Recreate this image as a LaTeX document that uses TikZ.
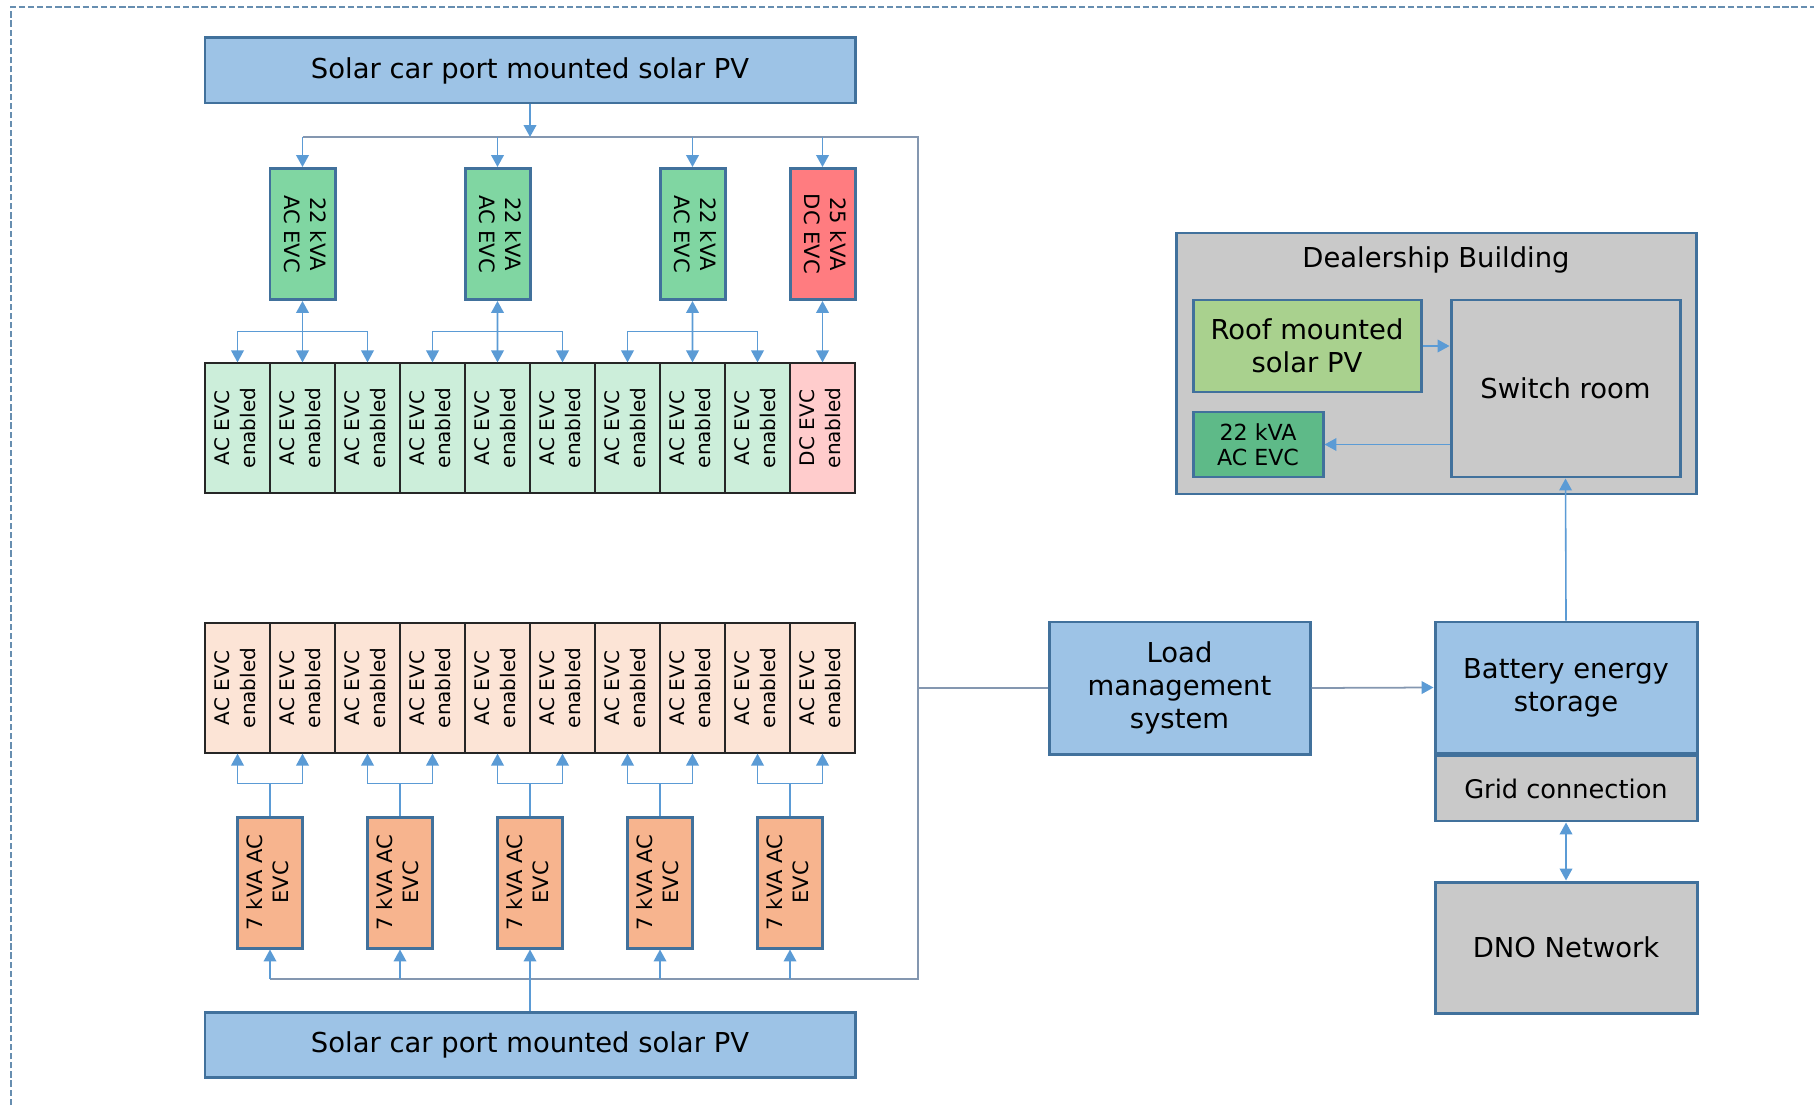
\documentclass[tikz,border=0pt]{standalone}
\usepackage{fontspec}
\setmainfont{DejaVu Sans}
\usepackage{graphicx}
\usetikzlibrary{arrows.meta, positioning, calc}
\definecolor{pvblue}{RGB}{157,195,230}
\definecolor{edgeblue}{RGB}{65,113,156}
\definecolor{arrowblue}{RGB}{91,155,213}
\definecolor{busgray}{RGB}{132,151,176}
\definecolor{evgreen}{RGB}{128,214,162}
\definecolor{dcred}{RGB}{255,124,128}
\definecolor{baygreen}{RGB}{204,238,218}
\definecolor{baypink}{RGB}{255,204,204}
\definecolor{baypeach}{RGB}{252,228,214}
\definecolor{evorange}{RGB}{247,180,142}
\definecolor{roomgray}{RGB}{201,201,201}
\definecolor{roofgreen}{RGB}{169,209,142}
\definecolor{indoorgreen}{RGB}{94,186,136}

% rotated two-line label
\newcommand{\rotlabel}[2]{\rotatebox{#1}{\begin{tabular}{@{}c@{}}#2\end{tabular}}}

\tikzset{
  blk/.style={draw=edgeblue, line width=0.85pt, inner sep=1pt, align=center,
    font=\fontsize{7.8}{9.4}\selectfont},
  pvbox/.style={blk, fill=pvblue, minimum width=6.5cm, minimum height=0.65cm},
  evbox/.style={blk, minimum width=0.65cm, minimum height=1.31cm,
    font=\fontsize{6}{7.4}\selectfont},
  bay/.style={draw=black!85, line width=0.35pt, minimum width=0.65cm,
    minimum height=1.3cm, inner sep=0pt, font=\fontsize{5.7}{7.4}\selectfont},
  tip/.style={-{Triangle[length=3.4pt,width=3.6pt]}},
  feed/.style={arrowblue, line width=0.45pt, tip},
  both/.style={{Triangle[length=3.4pt,width=3.6pt]}-{Triangle[length=3.4pt,width=3.6pt]}},
  bus/.style={busgray, line width=0.5pt},
}

\begin{document}
\begin{tikzpicture}
\useasboundingbox (0,0) rectangle (18.14,11.05);
\draw[edgeblue!80, line width=0.3pt, dash pattern=on 1.8pt off 0.8pt] (0.11,0) |- (18.14,10.98);

% solar car ports
\node[pvbox] (pvtop) at (5.30,10.345) {Solar car port mounted solar PV};
\node[pvbox] (pvbot) at (5.30,0.605) {Solar car port mounted solar PV};

% parking bays
\foreach \i in {1,...,9}
  \node[bay, fill=baygreen] (u\i) at ({2.375+0.65*(\i-1)},6.77) {\rotlabel{90}{AC EVC\\enabled}};
\node[bay, fill=baypink] (u10) at (8.225,6.77) {\rotlabel{90}{DC EVC\\enabled}};
\foreach \i in {1,...,10}
  \node[bay, fill=baypeach] (l\i) at ({2.375+0.65*(\i-1)},4.17) {\rotlabel{90}{AC EVC\\enabled}};

% fast chargers
\node[evbox, fill=evgreen] (c1) at (3.025,8.71) {\rotlabel{-90}{22 kVA\\AC EVC}};
\node[evbox, fill=evgreen] (c2) at (4.975,8.71) {\rotlabel{-90}{22 kVA\\AC EVC}};
\node[evbox, fill=evgreen] (c3) at (6.925,8.71) {\rotlabel{-90}{22 kVA\\AC EVC}};
\node[evbox, fill=dcred] (c4) at (8.225,8.71) {\rotlabel{-90}{25 kVA\\DC EVC}};

% 7 kVA chargers
\foreach \j/\x in {1/2.70, 2/4.00, 3/5.30, 4/6.60, 5/7.90}
  \node[evbox, fill=evorange] (s\j) at (\x,2.225) {\rotlabel{90}{7 kVA AC\\EVC}};

% right hand side
\node[blk, fill=pvblue, minimum width=2.61cm, minimum height=1.32cm] (lms) at (11.795,4.17) {Load\\management\\system};
\node[blk, fill=pvblue, minimum width=2.62cm, minimum height=1.31cm] (bes) at (15.66,4.175) {Battery energy\\storage};
\node[blk, fill=roomgray, minimum width=2.62cm, minimum height=0.65cm, below=0pt of bes, font=\fontsize{7.3}{9}\selectfont] (grid) {Grid connection};
\node[blk, fill=roomgray, minimum width=2.62cm, minimum height=1.31cm] (dno) at (15.66,1.575) {DNO Network};

\node[blk, fill=roomgray, minimum width=5.2cm, minimum height=2.61cm] (bldg) at (14.36,7.415) {};
\node[font=\fontsize{7.8}{9.4}\selectfont] (bldgtitle) at (14.36,8.45) {Dealership Building};
\node[blk, fill=roomgray, minimum width=2.29cm, minimum height=1.77cm] (switch) at (15.655,7.165) {Switch room};
\node[blk, fill=roofgreen, minimum width=2.28cm, minimum height=0.92cm] (roof) at (13.07,7.59) {Roof mounted\\solar PV};
\node[blk, fill=indoorgreen, minimum width=1.30cm, minimum height=0.65cm, font=\fontsize{6.3}{7.2}\selectfont] (indoor) at (12.58,6.605) {22 kVA\\AC EVC};

% bus lines
\coordinate (busTL) at (3.025,9.68);
\coordinate (busTR) at (9.18,9.68);
\coordinate (busBR) at (9.18,1.26);
\coordinate (busBL) at (2.70,1.26);
\draw[bus] (busTL) -- (busTR) -- (busBR) -- (busBL);
\draw[feed] (pvtop.south) -- (pvtop.south |- busTR);
\foreach \c in {c1,c2,c3,c4}
  \draw[feed] (\c.north |- busTR) -- (\c.north);

% chargers to bays
\foreach \c/\a/\m/\b in {c1/u1/u2/u3, c2/u4/u5/u6, c3/u7/u8/u9} {
  \draw[feed, both] (\c.south) -- (\m.north);
  \coordinate (k) at ($(\c.south)!0.5!(\m.north)$);
  \draw[feed] (k) -| (\a.north);
  \draw[feed] (k) -| (\b.north);
}
\draw[feed, both] (c4.south) -- (u10.north);

\foreach \s/\a/\b in {s1/l1/l2, s2/l3/l4, s3/l5/l6, s4/l7/l8, s5/l9/l10} {
  \coordinate (k) at ($(\s.north)+(0,0.32)$);
  \draw[arrowblue, line width=0.45pt] (\s.north) -- (k);
  \draw[feed] (k) -| (\a.south);
  \draw[feed] (k) -| (\b.south);
}
\draw[feed] (pvbot.north) -- (s3.south);
\foreach \s in {s1,s2,s4,s5}
  \draw[feed] (\s.south |- busBL) -- (\s.south);

% load management and building
\draw[bus] (lms.west -| busTR) -- (lms.west);
\draw[bus, -{Triangle[length=3.4pt,width=3.6pt,color=arrowblue]}] (lms.east) -- (bes.west);
\draw[feed, both] (grid.south) -- (dno.north);
\draw[feed] (bes.north) -- (switch.south);
\draw[feed] (roof.east) -- (roof.east -| switch.west);
\draw[feed] (switch.west |- indoor.east) -- (indoor.east);
\end{tikzpicture}
\end{document}
